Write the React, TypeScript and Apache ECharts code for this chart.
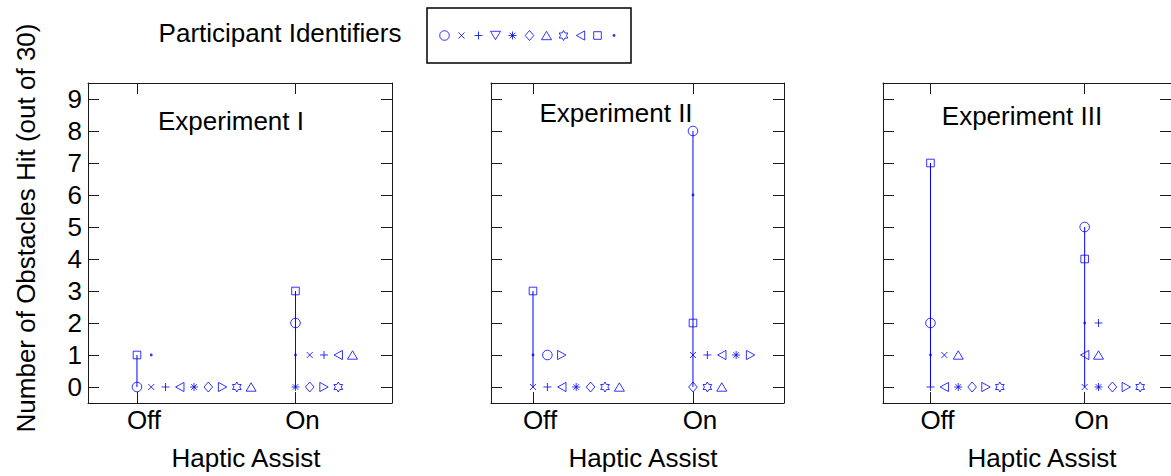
import React, { useEffect, useRef } from 'react';
import * as echarts from 'echarts';

// ---------------- data ----------------
// participants in plotting (tie-break) order
const participants = ['square', 'dot', 'circle', 'cross', 'plus', 'triLeft', 'asterisk', 'diamond', 'triRight', 'hexagram', 'triUp'];
const conditions = ['Off', 'On'];
const conditionPos = [1, 2];
const yTicks = [0, 1, 2, 3, 4, 5, 6, 7, 8, 9];
const experiments = ['Experiment I', 'Experiment II', 'Experiment III'];

// obstacles hit per participant (same order as `participants`)
const exp1Off = [1, 1, 0, 0, 0, 0, 0, 0, 0, 0, 0];
const exp1On = [3, 1, 2, 1, 1, 1, 0, 0, 0, 0, 1];
const exp2Off = [3, 1, 1, 0, 0, 0, 0, 0, 1, 0, 0];
const exp2On = [2, 6, 8, 1, 1, 1, 1, 0, 1, 0, 0];
const exp3Off = [7, 1, 2, 1, 0, 0, 0, 0, 0, 0, 1];
const exp3On = [4, 2, 5, 0, 2, 1, 0, 0, 0, 0, 1];

const legendOrder = ['circle', 'cross', 'plus', 'triRight', 'asterisk', 'diamond', 'triUp', 'hexagram', 'triLeft', 'square', 'dot'];

// ---------------- styling / layout ----------------
const FONT = '"Liberation Sans", Arial, Helvetica, sans-serif';
const BLUE = '#0000ff';
const AXIS = '#1a1a1a';
const OFFSET_STEP = 0.09;

const panels = [
  { left: 88, width: 304, xMin: 0.691, xMax: 2.609, titleX: 231, titleY: 121, nameX: 246 },
  { left: 491, width: 293, xMin: 0.7375, xMax: 2.569, titleX: 616, titleY: 113, nameX: 643 },
  { left: 883, width: 297, xMin: 0.692, xMax: 2.56, titleX: 1022, titleY: 116, nameX: 1042 },
];
const GRID_TOP = 83;
const GRID_H = 320;

function hexagramPath(): string {
  const pts: string[] = [];
  for (let k = 0; k < 12; k++) {
    const a = (-90 + k * 30) * Math.PI / 180;
    const r = k % 2 === 0 ? 5 : 2.9;
    pts.push(`${(5 + r * Math.cos(a)).toFixed(2)} ${(5 + r * Math.sin(a)).toFixed(2)}`);
  }
  return 'M0 0M10 10M' + pts.join('L') + 'Z';
}

const icons: Record<string, string> = {
  circle: 'path://M0 0M10 10M0.2 5A4.8 4.8 0 1 1 9.8 5A4.8 4.8 0 1 1 0.2 5Z',
  square: 'path://M0 0M10 10M1.2 1.2L8.8 1.2L8.8 8.8L1.2 8.8Z',
  cross: 'path://M0 0M10 10M2 2L8 8M8 2L2 8',
  plus: 'path://M0 0M10 10M5 1L5 9M1 5L9 5',
  triLeft: 'path://M0 0M10 10M0.8 5L9.2 0.4L9.2 9.6Z',
  triRight: 'path://M0 0M10 10M9.2 5L0.8 0.4L0.8 9.6Z',
  triUp: 'path://M0 0M10 10M0 9.2L5 0.8L10 9.2Z',
  triDown: 'path://M0 0M10 10M0 0.8L10 0.8L5 9.2Z',
  diamond: 'path://M0 0M10 10M5 0L9.3 5L5 10L0.7 5Z',
  asterisk: 'path://M0 0M10 10M5 1L5 9M1 5L9 5M2.2 2.2L7.8 7.8M7.8 2.2L2.2 7.8',
  hexagram: 'path://' + hexagramPath(),
  dot: 'path://M0 0M10 10M3.6 5A1.4 1.4 0 1 1 6.4 5A1.4 1.4 0 1 1 3.6 5Z',
};
const legendIcons: Record<string, string> = { ...icons, triRight: icons.triDown };

function buildOption() {
  const values = [[exp1Off, exp1On], [exp2Off, exp2On], [exp3Off, exp3On]];
  const grid: any[] = [];
  const xAxis: any[] = [];
  const yAxis: any[] = [];
  const series: any[] = [];
  const graphic: any[] = [];
  const lineStyle = { color: AXIS, width: 1 };

  panels.forEach((p, i) => {
    grid.push({ left: p.left, top: GRID_TOP, width: p.width, height: GRID_H });
    const xBase = {
      type: 'value', gridIndex: i, min: p.xMin, max: p.xMax,
      splitLine: { show: false },
      axisLine: { show: true, onZero: false, lineStyle },
      axisTick: { show: true, inside: true, length: 11, customValues: conditionPos, lineStyle },
    };
    xAxis.push({
      ...xBase, position: 'bottom',
      axisLabel: {
        show: true, customValues: conditionPos, margin: 4, padding: [0, 0, 0, 14],
        formatter: (v: number) => conditions[conditionPos.indexOf(v)] ?? '',
        fontSize: 26, color: '#000', fontFamily: FONT,
      },
    });
    xAxis.push({ ...xBase, position: 'top', axisLabel: { show: false } });
    const yBase = {
      type: 'value', gridIndex: i, min: -0.5, max: 9.5,
      splitLine: { show: false },
      axisLine: { show: true, onZero: false, lineStyle },
      axisTick: { show: true, inside: true, length: 11, customValues: yTicks, lineStyle },
    };
    yAxis.push({
      ...yBase, position: 'left',
      axisLabel: { show: i === 0, customValues: yTicks, margin: 6, fontSize: 26, color: '#000', fontFamily: FONT },
    });
    yAxis.push({ ...yBase, position: 'right', axisLabel: { show: false } });

    values[i].forEach((arr, c) => {
      const x = conditionPos[c];
      series.push({
        type: 'line', name: `range-${i}-${c}`, xAxisIndex: 2 * i, yAxisIndex: 2 * i,
        data: [[x, Math.min(...arr)], [x, Math.max(...arr)]],
        symbol: 'none', silent: true, z: 1,
        lineStyle: { color: BLUE, width: 1 },
      });
    });

    participants.forEach((name, j) => {
      const data = values[i].map((arr, c) => {
        const rank = arr.slice(0, j).filter((v) => v === arr[j]).length;
        return [conditionPos[c] + rank * OFFSET_STEP, arr[j]];
      });
      series.push({
        type: 'scatter', name, xAxisIndex: 2 * i, yAxisIndex: 2 * i,
        symbol: icons[name], symbolSize: 10, z: 3, data,
        itemStyle: name === 'dot'
          ? { color: BLUE, borderWidth: 0 }
          : { color: 'rgba(0,0,0,0)', borderColor: BLUE, borderWidth: 1 },
      });
    });

    graphic.push({
      type: 'text', x: p.titleX, y: p.titleY,
      style: { text: experiments[i], font: `26px ${FONT}`, fill: '#000', align: 'center', verticalAlign: 'middle' },
    });
    graphic.push({
      type: 'text', x: p.nameX, y: 458,
      style: { text: 'Haptic Assist', font: `26px ${FONT}`, fill: '#000', align: 'center', verticalAlign: 'middle' },
    });
  });

  graphic.push({
    type: 'text', x: 26, y: 228, rotation: Math.PI / 2,
    style: { text: 'Number of Obstacles Hit (out of 30)', font: `26px ${FONT}`, fill: '#000', align: 'center', verticalAlign: 'middle' },
  });
  graphic.push({
    type: 'text', x: 280, y: 33,
    style: { text: 'Participant Identifiers', font: `26px ${FONT}`, fill: '#000', align: 'center', verticalAlign: 'middle' },
  });

  return {
    animation: false,
    backgroundColor: '#fff',
    grid, xAxis, yAxis, series, graphic,
    legend: {
      left: 427, top: 8, padding: [22, 12, 22, 12],
      borderColor: '#000', borderWidth: 1.5,
      itemWidth: 10, itemHeight: 10, itemGap: 6,
      selectedMode: false,
      formatter: () => '',
      textStyle: { fontSize: 10 },
      itemStyle: { borderWidth: 1 },
      data: legendOrder.map((n) => ({ name: n, icon: legendIcons[n] })),
    },
  };
}

export default function App() {
  const ref = useRef<HTMLDivElement>(null);
  useEffect(() => {
    const chart = echarts.init(ref.current!, null, { renderer: 'svg' });
    chart.setOption(buildOption() as any);
    return () => chart.dispose();
  }, []);
  return (
    <div
      ref={ref}
      style={{ position: 'fixed', left: 0, top: 0, width: 1171, height: 476, background: '#fff' }}
    />
  );
}
